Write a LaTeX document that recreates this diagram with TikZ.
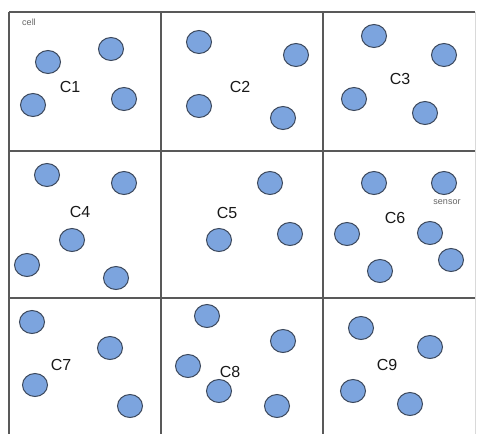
\documentclass[tikz,border=0pt]{standalone}
\usepackage{fontspec}
\setmainfont{Liberation Sans}
\definecolor{sensorfill}{RGB}{124,164,222}
\definecolor{sensorline}{RGB}{60,72,92}
\tikzset{
  sensor/.style={ellipse,draw=sensorline,line width=1pt,fill=sensorfill,
    minimum width=25pt,minimum height=23pt,inner sep=0pt},
  cellname/.style={font=\fontsize{16}{16}\selectfont,text=black!90},
  small/.style={font=\fontsize{9}{9}\selectfont,text=black!60}
}
\usetikzlibrary{shapes.geometric}
\begin{document}
\begin{tikzpicture}[x=1pt,y=-1pt]
\useasboundingbox (0,0) rectangle (480,434);
\fill[white] (0,0) rectangle (480,434);
\draw[black!65,line width=1.2pt] (9,12) -- (475,12);
\draw[black!65,line width=1.2pt] (9,151) -- (475,151);
\draw[black!65,line width=1.2pt] (9,298) -- (475,298);
\draw[black!65,line width=1.2pt] (9,12) -- (9,434);
\draw[black!65,line width=1.2pt] (161,12) -- (161,434);
\draw[black!65,line width=1.2pt] (323,12) -- (323,434);
\draw[black!15,line width=0.8pt] (475,12) -- (475,434);
% cell names
\node[cellname] (c1) at (70,87) {C1};
\node[cellname] (c2) at (240,87) {C2};
\node[cellname] (c3) at (400,79) {C3};
\node[cellname] (c4) at (80,212) {C4};
\node[cellname] (c5) at (227,213) {C5};
\node[cellname] (c6) at (395,218) {C6};
\node[cellname] (c7) at (61,365) {C7};
\node[cellname] (c8) at (230,372) {C8};
\node[cellname] (c9) at (387,365) {C9};
\node[small] (celltext) at (29,22) {cell};
\node[small] (sensortext) at (447,202) {sensor};
% sensors
\node[sensor] (s11) at (48,62) {};
\node[sensor] (s12) at (111,49) {};
\node[sensor] (s13) at (33,105) {};
\node[sensor] (s14) at (124,99) {};
\node[sensor] (s21) at (199,42) {};
\node[sensor] (s22) at (296,55) {};
\node[sensor] (s23) at (199,106) {};
\node[sensor] (s24) at (283,118) {};
\node[sensor] (s31) at (374,36) {};
\node[sensor] (s32) at (444,55) {};
\node[sensor] (s33) at (354,99) {};
\node[sensor] (s34) at (425,113) {};
\node[sensor] (s41) at (47,175) {};
\node[sensor] (s42) at (124,183) {};
\node[sensor] (s43) at (72,240) {};
\node[sensor] (s44) at (27,265) {};
\node[sensor] (s45) at (116,278) {};
\node[sensor] (s51) at (270,183) {};
\node[sensor] (s52) at (219,240) {};
\node[sensor] (s53) at (290,234) {};
\node[sensor] (s61) at (374,183) {};
\node[sensor] (s62) at (444,183) {};
\node[sensor] (s63) at (347,234) {};
\node[sensor] (s64) at (430,233) {};
\node[sensor] (s65) at (451,260) {};
\node[sensor] (s66) at (380,271) {};
\node[sensor] (s71) at (32,322) {};
\node[sensor] (s72) at (110,348) {};
\node[sensor] (s73) at (35,385) {};
\node[sensor] (s74) at (130,406) {};
\node[sensor] (s81) at (207,316) {};
\node[sensor] (s82) at (283,341) {};
\node[sensor] (s83) at (188,366) {};
\node[sensor] (s84) at (219,391) {};
\node[sensor] (s85) at (277,406) {};
\node[sensor] (s91) at (361,328) {};
\node[sensor] (s92) at (430,347) {};
\node[sensor] (s93) at (353,391) {};
\node[sensor] (s94) at (410,404) {};
\end{tikzpicture}
\end{document}
